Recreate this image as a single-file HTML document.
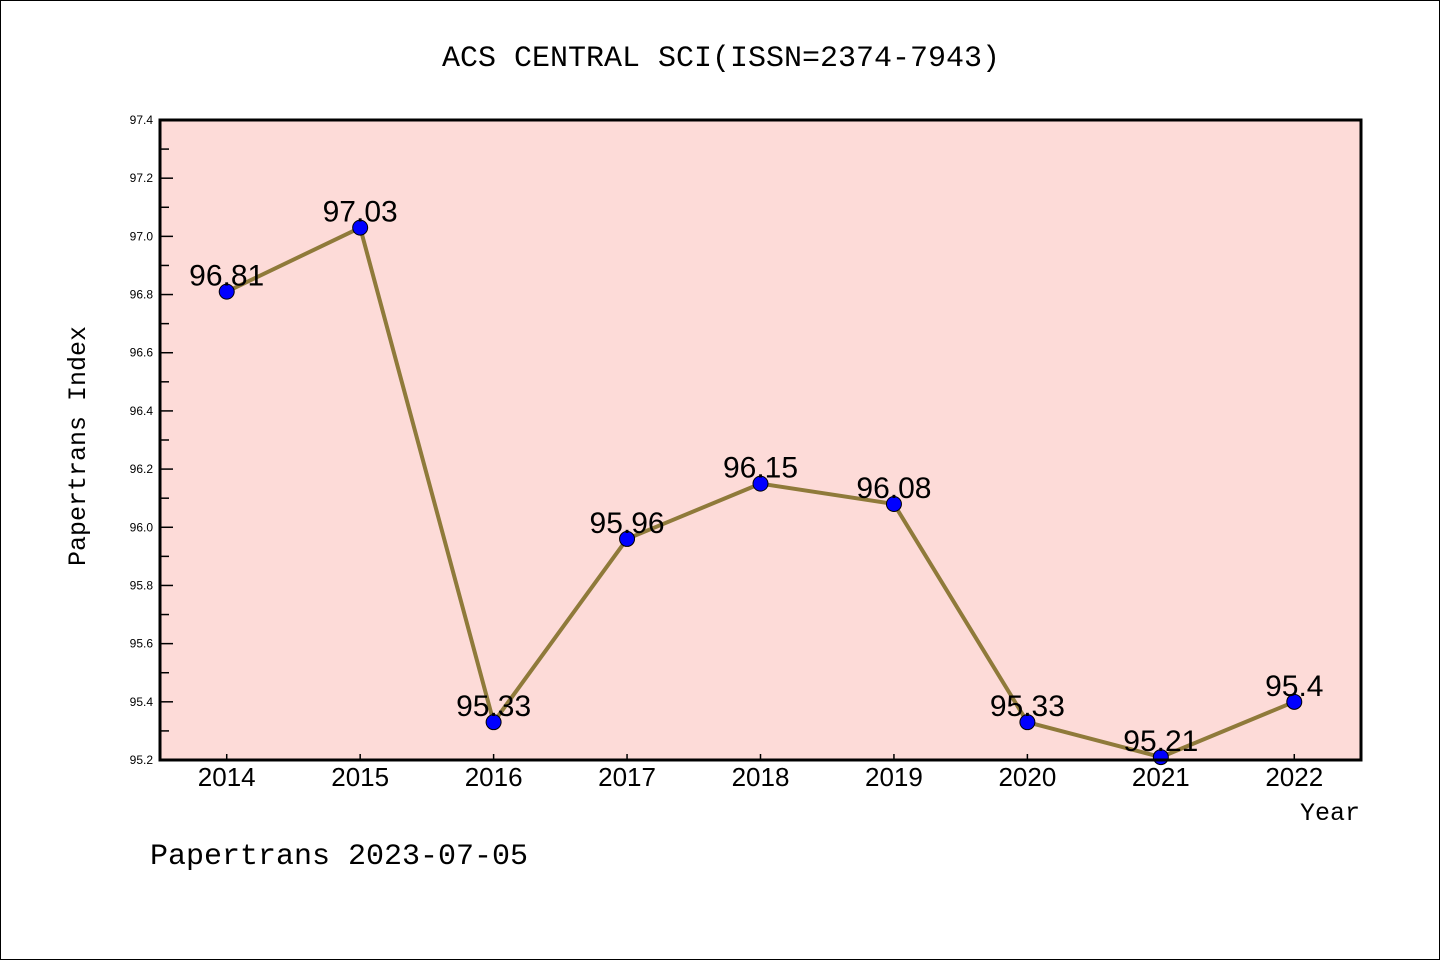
<!DOCTYPE html>
<html><head><meta charset="utf-8"><style>
html,body{margin:0;padding:0;background:#fff;}
svg{display:block;font-family:"Liberation Sans","DejaVu Sans",sans-serif;}
</style></head><body>
<svg id="chart" width="1440" height="960" viewBox="0 0 1440 960">
<rect x="0.5" y="0.5" width="1439" height="959" fill="#fff" stroke="#000" stroke-width="1"/>
<text x="721" y="66" text-anchor="middle" font-size="30" font-family="Liberation Mono, monospace">ACS CENTRAL SCI(ISSN=2374-7943)</text>
<rect x="160" y="120" width="1201" height="640" fill="#fddbd8"/>
<g id="axes"></g>
<g id="series"></g>
<rect x="160" y="120" width="1201" height="640" fill="none" stroke="#000" stroke-width="3"/>
<text x="85" y="446" transform="rotate(-90 85 446)" text-anchor="middle" font-size="25" font-family="Liberation Mono, monospace">Papertrans Index</text>
<text x="1360" y="820" text-anchor="end" font-size="25" font-family="Liberation Mono, monospace">Year</text>
<text x="150" y="864" font-size="30" font-family="Liberation Mono, monospace">Papertrans 2023-07-05</text>
</svg>
<script>
const years = ["2014","2015","2016","2017","2018","2019","2020","2021","2022"];
const values = [96.81,97.03,95.33,95.96,96.15,96.08,95.33,95.21,95.4];
const valueLabels = ["96.81","97.03","95.33","95.96","96.15","96.08","95.33","95.21","95.4"];
const yTicks = ["95.2","95.4","95.6","95.8","96.0","96.2","96.4","96.6","96.8","97.0","97.2","97.4"];
const yMin = 95.2, yMax = 97.4;
const X0=160,X1=1361,Y0=760,Y1=120;
function xScale(i){return X0+(i+0.5)*(X1-X0)/years.length;}
function yScale(v){return Y0-(v-yMin)/(yMax-yMin)*(Y0-Y1);}
const NS="http://www.w3.org/2000/svg";
function mk(tag,attrs,parent){const e=document.createElementNS(NS,tag);for(const k in attrs)e.setAttribute(k,attrs[k]);parent.appendChild(e);return e;}
const axes=document.getElementById('axes'), series=document.getElementById('series');
yTicks.forEach((t,i)=>{
  const y=yScale(parseFloat(t));
  const l=mk('line',{x1:X0,x2:X0+13,y1:y,y2:y,stroke:'#000','stroke-width':1.5},axes);
  
  
  const tx=mk('text',{x:153,y:y+4,'text-anchor':'end','font-size':12},axes);
  tx.textContent=t;
  
  
  if(i<yTicks.length-1){
    const ym=yScale(parseFloat(t)+0.1);
    const m=mk('line',{x1:X0,x2:X0+9,y1:ym,y2:ym,stroke:'#000','stroke-width':1.5},axes);
    
    
  }
});
years.forEach((yr,i)=>{
  const x=xScale(i);
  const l=mk('line',{x1:x,x2:x,y1:Y0,y2:Y0-6,stroke:'#000','stroke-width':1.5},axes);
  
  
  const tx=mk('text',{x:x,y:786,'text-anchor':'middle','font-size':26},axes);
  tx.textContent=yr;
  
  
});
const pts=values.map((v,i)=>xScale(i)+','+yScale(v)).join(' ');
const pl=mk('polyline',{points:pts,fill:'none',stroke:'#8f7a3a','stroke-width':4,'stroke-linejoin':'round'},series);


values.forEach((v,i)=>{
  const c=mk('circle',{cx:xScale(i),cy:yScale(v),r:7.5,fill:'#0000ff',stroke:'#000','stroke-width':1},series);
  
  
});
values.forEach((v,i)=>{
  const t=mk('text',{x:xScale(i),y:yScale(v)-6,'text-anchor':'middle','font-size':30},series);
  t.textContent=valueLabels[i];
  
  
});
</script>
</body></html>
